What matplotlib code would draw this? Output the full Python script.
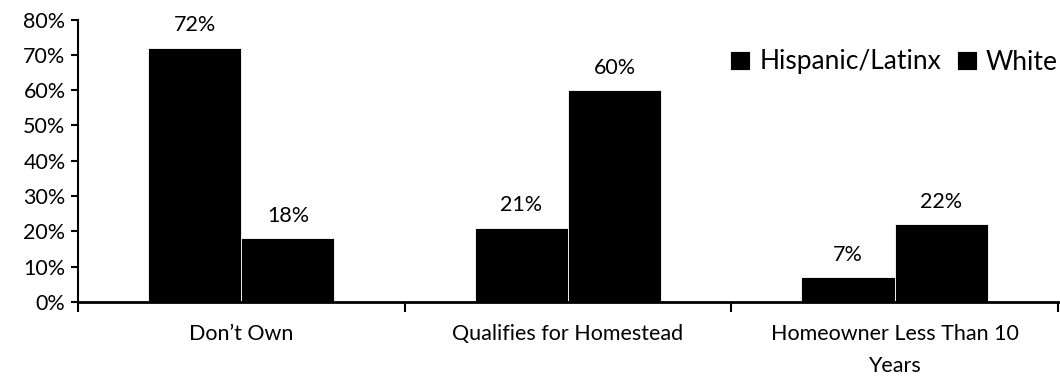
import matplotlib
matplotlib.use("Agg")
import matplotlib.pyplot as plt
import numpy as np
from matplotlib.ticker import PercentFormatter, FixedLocator

plt.rcParams['font.family'] = ['Lato', 'DejaVu Sans']

categories = ["Don\u2019t Own", "Qualifies for Homestead", "Homeowner Less Than 10\nYears"]
series_names = ["Hispanic/Latinx", "White"]
hispanic = [0.72, 0.21, 0.07]
white = [0.18, 0.60, 0.22]
hispanic_labels = ["72%", "21%", "7%"]
white_labels = ["18%", "60%", "22%"]
y_ticks = [0, 0.1, 0.2, 0.3, 0.4, 0.5, 0.6, 0.7, 0.8]

fig = plt.figure(figsize=(10.6, 3.77), dpi=100)
ax = fig.add_axes([0.0736, 0.199, 0.9244, 0.749])

x = np.arange(len(categories))
w = 0.285
b1 = ax.bar(x - w / 2, hispanic, w, color="black", edgecolor="white", linewidth=0.6,
            label=series_names[0])
b2 = ax.bar(x + w / 2, white, w, color="black", edgecolor="white", linewidth=0.6,
            label=series_names[1])

for bars, labels in ((b1, hispanic_labels), (b2, white_labels)):
    for rect, lab in zip(bars, labels):
        ax.annotate(lab, (rect.get_x() + rect.get_width() / 2, rect.get_height()),
                    xytext=(0, 9), textcoords="offset points",
                    ha="center", va="bottom", fontsize=15.5)

ax.set_xlim(-0.5, len(categories) - 0.5)
ax.set_ylim(0, 0.8)
ax.yaxis.set_major_locator(FixedLocator(y_ticks))
ax.yaxis.set_major_formatter(PercentFormatter(1.0, decimals=0))

ax.set_xticks(x)
ax.set_xticklabels(categories, fontsize=15.5)
ax.tick_params(axis="x", which="major", length=0, pad=16)
ax.set_xticks(np.arange(-0.5, len(categories), 1.0), minor=True)
ax.tick_params(axis="x", which="minor", length=7, width=1.5, direction="out")
ax.tick_params(axis="y", length=5, width=1.5, direction="out", labelsize=15.5, pad=4)
for lab in ax.get_xticklabels():
    lab.set_linespacing(1.75)

ax.spines["top"].set_visible(False)
ax.spines["right"].set_visible(False)
ax.spines["left"].set_linewidth(1.5)
ax.spines["bottom"].set_linewidth(2)

fig.legend(handles=[b1, b2], labels=series_names, loc="center right",
           bbox_to_anchor=(1058 / 1060, 1 - 62 / 377), ncol=2, frameon=False,
           fontsize=19, handlelength=0.75, handleheight=0.75, handletextpad=0.35,
           columnspacing=0.6, borderaxespad=0, borderpad=0)

fig.savefig("out.png", dpi=100)
